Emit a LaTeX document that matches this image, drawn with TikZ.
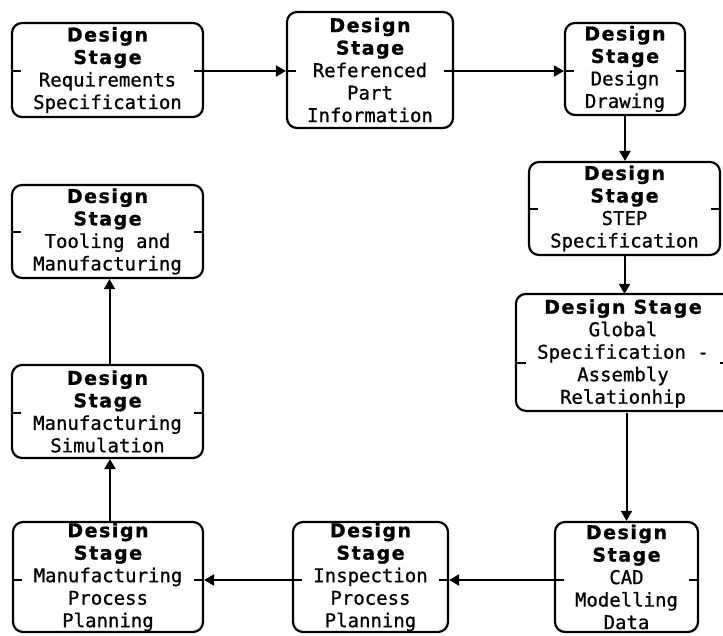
\documentclass[tikz,border=0pt]{standalone}
\usepackage{fontspec}
\usepackage{tikz}
\usetikzlibrary{calc,arrows.meta}

\newfontfamily\bodyfont[FakeBold=0.8]{DejaVu Sans Mono}
\newfontfamily\headfont[LetterSpace=8,FakeBold=1]{DejaVu Sans}
% two bold heading lines shared by most boxes
\newcommand{\stagehead}{{\headfont\bfseries Design}\\{\headfont\bfseries Stage}\\}

\tikzset{
  stagebox/.style={draw, line width=2.2pt, rounded corners=10pt, align=center,
    inner sep=0pt, font=\fontsize{19}{22.5}\selectfont\bodyfont},
  flow/.style={line width=2pt, -{Triangle[length=10pt,width=11pt]}},
  stub/.style={line width=2pt}
}

\begin{document}
\begin{tikzpicture}[x=1pt,y=-1pt]
\useasboundingbox (0,0) rectangle (723,635);
% top row
\node[stagebox, minimum width=191, minimum height=94] (req) at (107.5,70)
  {\stagehead Requirements\\Specification};
\node[stagebox, minimum width=166, minimum height=116] (ref) at (370,70)
  {\stagehead Referenced\\Part\\Information};
\node[stagebox, minimum width=120, minimum height=92] (drw) at (625,69)
  {\stagehead Design\\Drawing};
% right column
\node[stagebox, minimum width=191, minimum height=93] (stp) at (624.5,208.5)
  {\stagehead STEP\\Specification};
% this one runs past the right margin, so its frame is drawn by hand
\node[stagebox, draw=none, minimum width=212, minimum height=117] (glb) at (623,353.5)
  {{\headfont\bfseries Design Stage}\\Global\\Specification -\\Assembly\\Relationhip};
\draw[line width=2.2pt, rounded corners=10pt] (glb.north west) rectangle ++(240,117);
% bottom row
\node[stagebox, minimum width=143, minimum height=110] (cad) at (626.5,577)
  {\stagehead CAD\\Modelling\\Data};
\node[stagebox, minimum width=155, minimum height=110] (ins) at (370.5,577)
  {\stagehead Inspection\\Process\\Planning};
\node[stagebox, minimum width=190, minimum height=110] (mpp) at (108,577)
  {\stagehead Manufacturing\\Process\\Planning};
% left column
\node[stagebox, minimum width=191, minimum height=93] (sim) at (107.5,411.5)
  {\stagehead Manufacturing\\Simulation};
\node[stagebox, minimum width=191, minimum height=93] (tool) at (107.5,231.5)
  {\stagehead Tooling and\\Manufacturing};

% port stubs on both sides of every box
\foreach \n/\dy in {req/-1, ref/-1, drw/-2, stp/0, glb/-9, cad/-3, ins/-3, mpp/-3, sim/-1, tool/0}{
  \draw[stub] ([yshift=\dy pt]\n.west) -- ++(10,0);
  \draw[stub] ([yshift=\dy pt]\n.east) -- ++(-10,0);
}

% connectors
\draw[flow] ([yshift=-1pt]req.east) -- ([yshift=-1pt]req.east -| ref.west);
\draw[flow] ([yshift=-1pt]ref.east) -- ([yshift=-1pt]ref.east -| drw.west);
\draw[flow] (drw.south) -- (drw.south |- stp.north);
\draw[flow] (stp.south) -- (stp.south |- glb.north);
\draw[flow] (glb.south -| cad.north) -- (cad.north);
\draw[flow] ([yshift=-3pt]cad.west) -- ([yshift=-3pt]ins.east);
\draw[flow] ([yshift=-3pt]ins.west) -- ([yshift=-3pt]mpp.east);
\draw[flow] ([xshift=2pt]mpp.north) -- ([xshift=2pt]mpp.north |- sim.south);
\draw[flow] ([xshift=2pt]sim.north) -- ([xshift=2pt]sim.north |- tool.south);
\end{tikzpicture}
\end{document}
